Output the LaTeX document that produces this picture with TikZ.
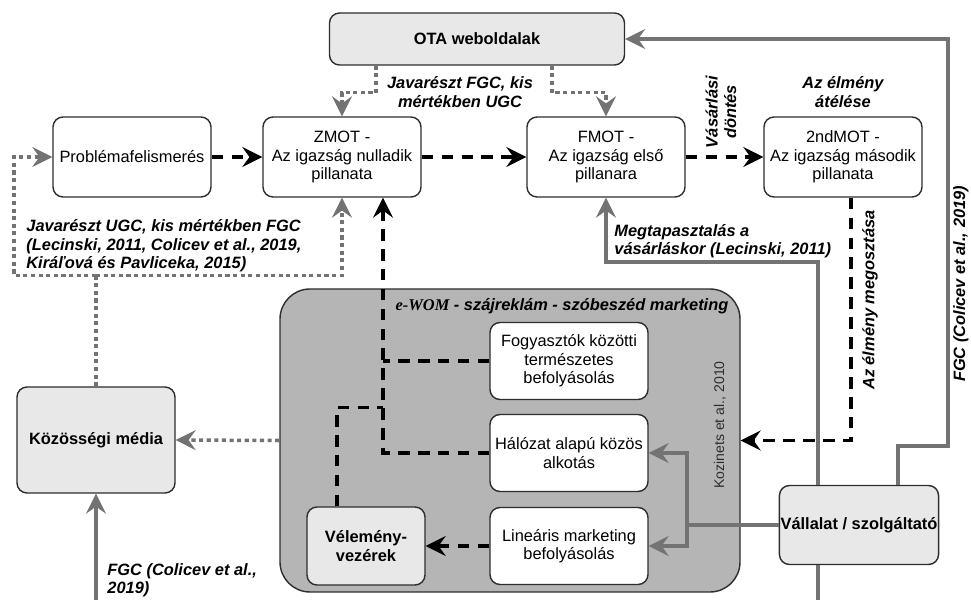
\documentclass[tikz,border=0pt]{standalone}
\usepackage{fontspec}
\setmainfont{Liberation Sans}
\newfontfamily\womfont{Liberation Serif}
\usetikzlibrary{calc}
\usetikzlibrary{arrows.meta}
\definecolor{linegray}{RGB}{115,115,115}
\definecolor{boxgray}{RGB}{232,232,232}
\definecolor{womgray}{RGB}{181,181,181}
\definecolor{rimgray}{RGB}{45,45,45}
\tikzset{%
  stepbox/.style={draw=rimgray, line width=1.2pt, rounded corners=3mm, fill=white,
    align=center, minimum width=47.4mm, minimum height=24mm, inner sep=1pt,
    font=\fontsize{14}{15.7}\selectfont},
  keybox/.style={stepbox, fill=boxgray, font=\fontsize{14}{15.7}\selectfont\bfseries},
  tip/.style={-{Stealth[length=17pt, width=17pt, inset=6pt]}},
  dashline/.style={line width=3pt, dash pattern=on 10pt off 7pt, black},
  dashedge/.style={dashline, tip},
  dotedge/.style={line width=3pt, dash pattern=on 3.5pt off 3pt, linegray, tip},
  grayline/.style={line width=3pt, linegray},
  grayedge/.style={grayline, tip},
  lbl/.style={align=center, inner sep=1pt, font=\fontsize{14}{15.7}\selectfont\bfseries\itshape}
}
\begin{document}
\begin{tikzpicture}[x=0.3mm, y=-0.3mm]
  \useasboundingbox (0,0) rectangle (971,600);
  % container
  \node[draw=rimgray, line width=1.2pt, fill=womgray, rounded corners=9mm,
    minimum width=138mm, minimum height=90.9mm] (wom) at (510,440.5) {};
  \node[lbl] (wtitle) at (562,306) {{\womfont e-WOM} - szájreklám - szóbeszéd marketing};
  \node[rotate=90, text=rimgray, font=\fontsize{12}{14}\selectfont] (lkoz) at (720,425) {Kozinets et al., 2010};
  % boxes
  \node[keybox, minimum width=88.5mm, minimum height=15.6mm] (ota) at (477,39) {OTA weboldalak};
  \node[stepbox] (prob) at (132,157) {Problémafelismerés};
  \node[stepbox] (zmot) at (342,157) {ZMOT -\\Az igazság nulladik\\pillanata};
  \node[stepbox] (fmot) at (606,157) {FMOT -\\Az igazság első\\pillanara};
  \node[stepbox] (smot) at (843,157) {2ndMOT -\\Az igazság második\\pillanata};
  \node[keybox, minimum height=31.8mm] (media) at (96,440) {Közösségi média};
  \node[stepbox, minimum height=23.1mm] (fogy) at (569,361) {Fogyasztók közötti\\természetes\\befolyásolás};
  \node[stepbox, minimum height=23.1mm] (halo) at (569,453) {Hálózat alapú közös\\alkotás};
  \node[stepbox, minimum height=23.1mm] (lin) at (569,546) {Lineáris marketing\\befolyásolás};
  \node[keybox, minimum width=35.4mm, minimum height=23.4mm] (vel) at (366,546) {Vélemény-\\vezérek};
  \node[keybox, minimum height=23.7mm] (vall) at (859,525) {Vállalat / szolgáltató};
  \coordinate (zin) at ($(zmot.south)+(41,0)$);
  \coordinate (mbot) at (96,600);
  \coordinate (vbot) at (818,600);
  % main chain
  \draw[dashedge] (prob) -- (zmot);
  \draw[dashedge] (zmot) -- (fmot);
  \draw[dashedge] (fmot) -- (smot);
  \draw[dashedge] ($(smot.south)+(8,0)$) |- (wom.east);
  % OTA
  \draw[dotedge] ($(ota.south)+(-101,0)$) -- ++(0,27) -| (zmot.north);
  \draw[dotedge] ($(ota.south)+(75,0)$) -- ++(0,27) -| (fmot.north);
  % company
  \draw[grayedge] ($(vall.north)+(39,0)$) -- ++(0,-39) -- ++(50,0) |- (ota.east);
  \draw[grayedge] ($(vall.north)+(-41,0)$) -- ++(0,-223) -| (fmot.south);
  \draw[grayline] ($(vall.south)+(-41,0)$) -- (vbot);
  \draw[grayline] (vall.west) -- ++(-92,0) coordinate (vsplit);
  \draw[grayedge] (vsplit) |- (halo.east);
  \draw[grayedge] (vsplit) |- (lin.east);
  % social media
  \draw[dotedge] (wom.west) -- (media.east);
  \draw[dotedge, -] (media.north) -- ++(0,-111) coordinate (msplit);
  \draw[dotedge] (msplit) -- ++(-82,0) |- (prob.west);
  \draw[dotedge] (msplit) -| (zmot.south);
  \draw[grayedge] (mbot) -- (media.south);
  % e-WOM inside
  \draw[dashedge] (halo.west) -| (zin);
  \draw[dashline] (fogy.west) -- (fogy.west -| zin);
  \draw[dashline] ($(vel.north)+(-29,0)$) -- ++(0,-99) -- ++(46,0);
  \draw[dashedge] (lin) -- (vel);
  % labels
  \node[lbl] (lfgc) at (460,92) {Javarészt FGC, kis\\mértékben UGC};
  \node[lbl, rotate=90] (ldont) at (721,112) {Vásárlási\\döntés};
  \node[lbl] (latel) at (843,92) {Az élmény\\átélése};
  \node[lbl, rotate=90] (lmeg) at (870,300) {Az élmény megosztása};
  \node[lbl, rotate=90] (lcol) at (961,284) {FGC (Colicev et al., 2019)};
  \node[lbl, align=left, anchor=west] (ltap) at (613,241) {Megtapasztalás a\\vásárláskor (Lecinski, 2011)};
  \node[lbl, align=left, anchor=west] (lugc) at (25,246) {Javarészt UGC, kis mértékben FGC\\(Lecinski, 2011, Colicev et al., 2019,\\Kiráľová és Pavliceka, 2015)};
  \node[lbl, align=left, anchor=west] (lfgc2) at (106,580) {FGC (Colicev et al.,\\2019)};
\end{tikzpicture}
\end{document}
